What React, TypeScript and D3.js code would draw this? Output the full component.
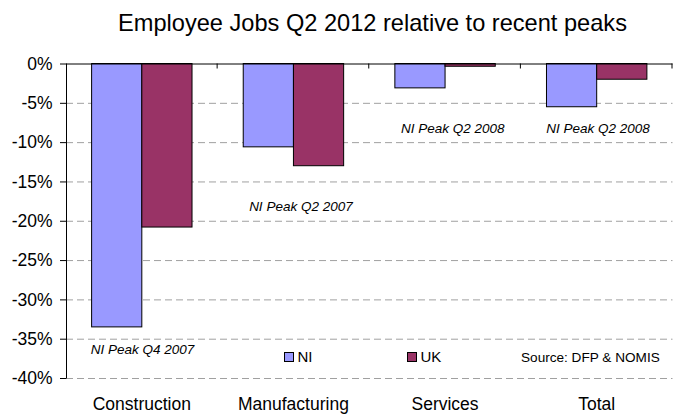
import React, { useEffect, useRef } from "react";
import * as d3 from "d3";

const categories = ["Construction", "Manufacturing", "Services", "Total"];
const seriesNames = ["NI", "UK"];
const niValues = [-33.5, -10.6, -3.1, -5.5];
const ukValues = [-20.8, -13.0, -0.35, -2.0];
const peakLabels = ["NI Peak Q4 2007", "NI Peak Q2 2007", "NI Peak Q2 2008", "NI Peak Q2 2008"];
const peakLabelValues = [-36.3, -18.1, -8.3, -8.3];
const yTicks = [0, -5, -10, -15, -20, -25, -30, -35, -40];
const colors = ["#9999FF", "#993366"];
const title = "Employee Jobs Q2 2012 relative to recent peaks";
const sourceText = "Source: DFP & NOMIS";

export default function App() {
  const ref = useRef<SVGSVGElement>(null);
  useEffect(() => {
    const W = 684, H = 414;
    const svg = d3.select(ref.current!);
    svg.selectAll("*").remove();
    const left = 66, right = 672.5, top = 63.5, bottom = 378;
    const font = "'Liberation Sans', Arial, sans-serif";
    const x = d3.scaleBand<string>().domain(categories).range([left, right]).paddingInner(0).paddingOuter(0);
    const y = d3.scaleLinear().domain([0, -40]).range([top, bottom]);
    const xs = d3.scaleBand<string>().domain(seriesNames).range([0, x.bandwidth()]).paddingInner(0).paddingOuter(0.51);

    svg.append("rect").attr("width", W).attr("height", H).attr("fill", "white");

    svg.append("g").selectAll("line").data(yTicks.filter(t => t !== 0)).join("line")
      .attr("x1", left).attr("x2", right)
      .attr("y1", d => y(d) + 0.5).attr("y2", d => y(d) + 0.5)
      .attr("stroke", "#A0A0A0").attr("stroke-width", 1).attr("stroke-dasharray", "7,4");

    const data = categories.map((c, i) => ({ c, vals: [niValues[i], ukValues[i]] }));
    const g = svg.append("g");
    data.forEach(d => {
      d.vals.forEach((v, j) => {
        g.append("rect")
          .attr("x", x(d.c)! + xs(seriesNames[j])!)
          .attr("y", y(0))
          .attr("width", xs.bandwidth())
          .attr("height", y(v) - y(0))
          .attr("fill", colors[j])
          .attr("stroke", "black").attr("stroke-width", 1);
      });
    });

    const ax = svg.append("g");
    ax.append("line").attr("x1", left + 0.5).attr("x2", left + 0.5).attr("y1", top).attr("y2", bottom + 0.5).attr("stroke", "black");
    ax.append("line").attr("x1", left).attr("x2", right).attr("y1", y(0) + 0.5).attr("y2", y(0) + 0.5).attr("stroke", "black");
    ax.selectAll("line.yt").data(yTicks).join("line").attr("class", "yt")
      .attr("x1", left - 6).attr("x2", left).attr("y1", d => y(d) + 0.5).attr("y2", d => y(d) + 0.5).attr("stroke", "black");
    ax.selectAll("text.yl").data(yTicks).join("text").attr("class", "yl")
      .attr("x", 52.5).attr("y", d => y(d)).attr("dy", "0.36em").attr("text-anchor", "end")
      .attr("font-family", font).attr("font-size", 17.5).text(d => d + "%");
    const bounds = categories.map(c => x(c)! + x.bandwidth());
    ax.selectAll("line.xt").data(bounds).join("line").attr("class", "xt")
      .attr("x1", d => d - 0.5).attr("x2", d => d - 0.5).attr("y1", y(0)).attr("y2", y(0) + 5).attr("stroke", "black");
    ax.selectAll("text.xl").data(categories).join("text").attr("class", "xl")
      .attr("x", d => x(d)! + x.bandwidth() / 2).attr("y", 410).attr("text-anchor", "middle")
      .attr("font-family", font).attr("font-size", 17.5).text(d => d);

    const peakOffsets = [24.7, 31.5, 31.7, 25.4];
    svg.selectAll("text.pk").data(categories).join("text").attr("class", "pk")
      .attr("x", (d, i) => x(d)! + peakOffsets[i])
      .attr("y", (d, i) => y(peakLabelValues[i])).attr("dy", "0.35em")
      .attr("font-family", font).attr("font-size", 13.5).attr("font-style", "italic")
      .text((d, i) => peakLabels[i]);

    const leg = [{ n: "NI", x: 284 }, { n: "UK", x: 407 }];
    leg.forEach((l, i) => {
      svg.append("rect").attr("x", l.x + 0.5).attr("y", 352.5).attr("width", 9).attr("height", 9)
        .attr("fill", colors[i]).attr("stroke", "black");
      svg.append("text").attr("x", l.x + 13.5).attr("y", 357).attr("dy", "0.36em")
        .attr("font-family", font).attr("font-size", 15).text(l.n);
    });
    svg.append("text").attr("x", 521).attr("y", 357).attr("dy", "0.36em")
      .attr("font-family", font).attr("font-size", 13.6).text(sourceText);

    svg.append("text").attr("x", 372.5).attr("y", 31).attr("text-anchor", "middle")
      .attr("font-family", font).attr("font-size", 23.6).text(title);
  }, []);
  return <svg ref={ref} width={684} height={414} style={{ position: "absolute", left: 0, top: 0, display: "block" }} />;
}
